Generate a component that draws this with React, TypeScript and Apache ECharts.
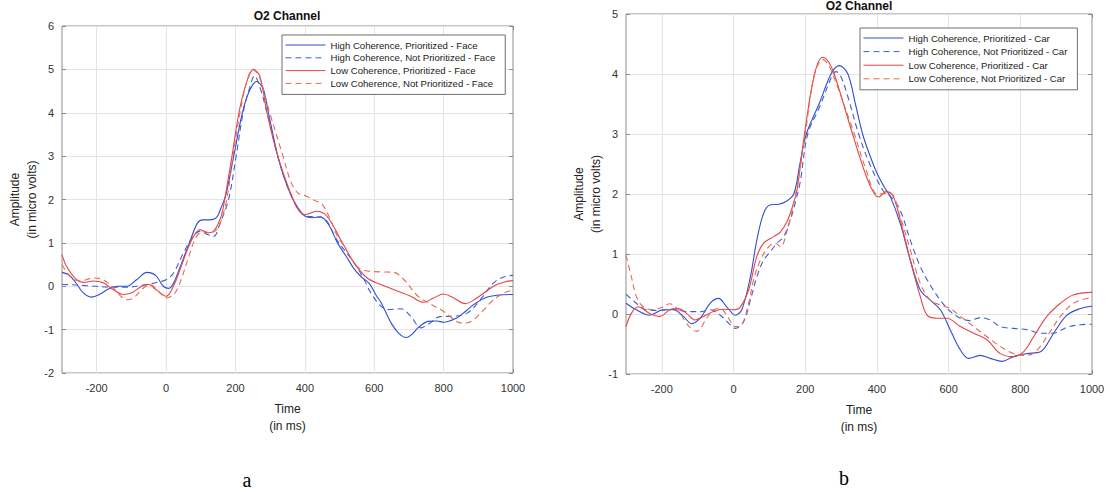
import React, { useEffect, useRef } from "react";
import * as echarts from "echarts";

// ---------- tick labels ----------
const xTicks = [-200, 0, 200, 400, 600, 800, 1000];
const yRangeA = [-2, 6];
const yRangeB = [-1, 5];

// ---------- legend names ----------
const namesA = [
  "High Coherence, Prioritized - Face",
  "High Coherence, Not Prioritized - Face",
  "Low Coherence, Prioritized - Face",
  "Low Coherence, Not Prioritized - Face",
];
const namesB = [
  "High Coherence, Prioritized - Car",
  "High Coherence, Not Prioritized - Car",
  "Low Coherence, Prioritized - Car",
  "Low Coherence, Not Prioritized - Car",
];

// ---------- panel a (Face): [time ms, amplitude µV] ----------
const hpFace = [
  [-300, 0.32], [-280, 0.26], [-260, 0.08], [-240, -0.14], [-215, -0.25], [-190, -0.18],
  [-165, -0.06], [-140, 0], [-113, 0], [-85, 0.15], [-55, 0.32], [-30, 0.25], [-8, 0.0],
  [8, -0.05], [22, 0.08], [45, 0.54], [69, 1.04], [90, 1.45], [105, 1.53], [125, 1.53],
  [145, 1.58], [158, 1.8], [172, 2.1], [195, 3.0], [220, 4.0], [240, 4.5], [261, 4.72],
  [280, 4.55], [295, 4.0], [322, 3.0], [345, 2.4], [366, 2.0], [385, 1.75], [400, 1.62],
  [420, 1.58], [445, 1.6], [470, 1.4], [494, 1.0], [520, 0.68], [542, 0.4], [561, 0.23],
  [586, 0.06], [605, -0.2], [620, -0.38], [649, -0.85], [670, -1.08], [692, -1.18],
  [710, -1.1], [726, -0.96], [755, -0.81], [780, -0.8], [800, -0.83], [838, -0.73],
  [860, -0.6], [887, -0.42], [926, -0.25], [960, -0.2], [1000, -0.19],
];
const hnpFace = [
  [-300, 0.04], [-260, 0.03], [-220, 0.01], [-160, -0.02], [-113, -0.02], [-56, 0.04],
  [-20, 0.1], [0, 0.15], [21, 0.3], [50, 0.77], [74, 1.1], [98, 1.27], [117, 1.2],
  [137, 1.15], [156, 1.46], [180, 2.0], [202, 3.0], [222, 4.0], [240, 4.55], [255, 4.85],
  [270, 4.6], [291, 4.0], [322, 3.0], [345, 2.4], [366, 2.0], [385, 1.75], [400, 1.62],
  [430, 1.6], [453, 1.58], [494, 1.05], [542, 0.54], [571, 0.15], [590, -0.15],
  [619, -0.46], [639, -0.54], [677, -0.52], [705, -0.69], [735, -0.96], [755, -0.88],
  [790, -0.7], [829, -0.69], [868, -0.62], [906, -0.31], [944, 0.08], [975, 0.22], [1000, 0.25],
];
const lpFace = [
  [-300, 0.73], [-287, 0.46], [-258, 0.15], [-238, 0.09], [-210, 0.12], [-181, 0.08],
  [-152, -0.08], [-123, -0.19], [-99, -0.15], [-70, 0], [-51, 0.04], [-27, -0.09],
  [0, -0.23], [21, 0], [40, 0.38], [60, 0.81], [79, 1.15], [98, 1.31], [117, 1.23],
  [137, 1.27], [158, 1.6], [170, 2.05], [190, 3.0], [210, 4.0], [232, 4.7], [252, 5.0],
  [270, 4.85], [291, 4.0], [322, 3.0], [366, 2.0], [385, 1.72], [400, 1.65], [434, 1.73],
  [463, 1.62], [503, 1.08], [542, 0.54], [580, 0.19], [619, 0.04], [657, -0.08],
  [705, -0.23], [742, -0.37], [771, -0.27], [800, -0.18], [829, -0.27], [862, -0.4],
  [896, -0.27], [944, 0], [975, 0.1], [1000, 0.13],
];
const lnpFace = [
  [-300, 0.5], [-277, 0.23], [-248, 0.12], [-210, 0.19], [-181, 0.15], [-152, -0.04],
  [-113, -0.31], [-94, -0.27], [-65, -0.04], [-46, 0.04], [-22, -0.12], [2, -0.27],
  [26, -0.15], [45, 0.19], [69, 0.77], [88, 1.15], [108, 1.27], [127, 1.23], [146, 1.31],
  [160, 1.55], [175, 2.0], [193, 3.0], [213, 4.0], [232, 4.7], [250, 5.0], [270, 4.8],
  [295, 4.1], [337, 3.0], [360, 2.4], [380, 2.15], [403, 2.08], [430, 1.97], [449, 1.9],
  [470, 1.6], [494, 1.15], [511, 0.95], [542, 0.54], [560, 0.4], [580, 0.35], [620, 0.33],
  [657, 0.32], [686, 0.15], [726, -0.23], [760, -0.4], [800, -0.58], [853, -0.85],
  [870, -0.84], [887, -0.77], [915, -0.55], [944, -0.31], [975, -0.15], [1000, -0.09],
];

// ---------- panel b (Car) ----------
const hpCar = [
  [-300, 0.18], [-271, 0.07], [-234, -0.02], [-196, 0.07], [-168, 0.07], [-140, -0.04],
  [-117, -0.16], [-93, -0.07], [-65, 0.18], [-42, 0.26], [-19, 0.12], [5, -0.02],
  [23, 0.07], [47, 0.62], [65, 1.23], [84, 1.68], [103, 1.82], [126, 1.83], [145, 1.87],
  [168, 2.0], [185, 2.5], [203, 3.0], [240, 3.52], [272, 4.0], [295, 4.14], [319, 4.0],
  [340, 3.5], [360, 3.0], [380, 2.65], [400, 2.35], [420, 2.12], [437, 1.96], [465, 1.51],
  [493, 0.9], [521, 0.4], [549, 0.23], [577, 0.07], [605, -0.27], [633, -0.6], [656, -0.74],
  [688, -0.69], [716, -0.74], [749, -0.79], [781, -0.71], [819, -0.66], [856, -0.63],
  [893, -0.32], [930, -0.02], [967, 0.09], [1000, 0.13],
];
const hnpCar = [
  [-300, 0.33], [-271, 0.18], [-243, 0.07], [-206, 0.06], [-168, 0.08], [-131, 0.04],
  [-93, 0.04], [-65, 0.07], [-37, -0.02], [-9, -0.18], [5, -0.24], [28, -0.13], [47, 0.23],
  [65, 0.62], [84, 0.9], [103, 1.04], [121, 1.18], [140, 1.29], [160, 1.6], [172, 1.85],
  [186, 2.2], [207, 3.0], [240, 3.45], [277, 4.0], [286, 4.04], [300, 3.95], [320, 3.6],
  [349, 3.0], [380, 2.5], [418, 2.05], [440, 1.95], [465, 1.73], [493, 1.23], [521, 0.79],
  [549, 0.48], [577, 0.23], [605, 0.04], [633, -0.07], [660, -0.11], [688, -0.06],
  [716, -0.1], [744, -0.21], [781, -0.24], [819, -0.26], [856, -0.32], [893, -0.32],
  [930, -0.22], [967, -0.18], [1000, -0.17],
];
const lpCar = [
  [-300, -0.21], [-285, 0.01], [-266, 0.12], [-234, 0.01], [-206, -0.04], [-178, 0.07],
  [-154, 0.09], [-131, 0.01], [-107, -0.1], [-84, -0.04], [-56, 0.04], [-28, 0.08],
  [0, 0.07], [19, 0.12], [42, 0.4], [65, 0.96], [84, 1.18], [112, 1.29], [131, 1.37],
  [150, 1.55], [165, 1.8], [178, 2.1], [198, 3.0], [226, 4.0], [249, 4.28], [265, 4.2],
  [281, 4.0], [332, 3.0], [370, 2.3], [393, 2.0], [405, 1.95], [425, 2.04], [444, 1.98],
  [465, 1.57], [493, 0.9], [521, 0.29], [540, -0.02], [567, -0.07], [595, -0.07],
  [633, -0.21], [670, -0.32], [707, -0.43], [744, -0.66], [781, -0.71], [809, -0.63],
  [837, -0.38], [874, -0.04], [912, 0.18], [949, 0.32], [1000, 0.36],
];
const lnpCar = [
  [-300, 0.98], [-285, 0.62], [-271, 0.29], [-252, 0.12], [-224, 0.07], [-196, 0.12],
  [-178, 0.17], [-154, 0.07], [-131, -0.16], [-103, -0.29], [-75, -0.07], [-56, 0.07],
  [-37, 0.09], [-19, -0.02], [5, -0.21], [23, -0.18], [42, 0.18], [56, 0.57], [75, 0.9],
  [98, 1.12], [117, 1.18], [131, 1.12], [150, 1.4], [168, 1.85], [182, 2.3], [200, 3.0],
  [226, 4.0], [249, 4.24], [265, 4.15], [283, 3.9], [337, 3.0], [370, 2.4], [402, 2.0],
  [437, 2.01], [465, 1.62], [493, 1.07], [521, 0.51], [549, 0.23], [577, 0.15], [605, 0.09],
  [633, -0.04], [670, -0.21], [707, -0.38], [744, -0.54], [781, -0.66], [819, -0.69],
  [847, -0.6], [874, -0.38], [912, -0.04], [949, 0.18], [1000, 0.28],
];

const colors = ["#2f4fcf", "#3e5fd4", "#e64545", "#ea6a52"];
const dashed = [false, true, false, true];
const FONT = "'Liberation Sans', Arial, Helvetica, sans-serif";

export default function App() {
  const ref = useRef<HTMLDivElement>(null);

  useEffect(() => {
    if (!ref.current) return;
    const chart = echarts.init(ref.current, undefined, { renderer: "svg" });

    const grids = [
      { left: 62, top: 26, width: 451, height: 347 },
      { left: 626, top: 14, width: 466, height: 360 },
    ];
    const yRanges = [yRangeA, yRangeB];
    const nameGaps = [20, 21];
    const fmt = (v: number) => String(v);

    const xAxis: any[] = [];
    const yAxis: any[] = [];
    grids.forEach((g, gi) => {
      const tickStyle = { inside: true, length: 4, lineStyle: { color: "#8c8c8c" } };
      const noLine = { show: false, onZero: false };
      xAxis.push({
        type: "value", gridIndex: gi, min: -300, max: 1000, position: "bottom",
        axisLine: noLine,
        axisTick: { ...tickStyle, customValues: xTicks },
        axisLabel: { customValues: xTicks, formatter: fmt, fontSize: 11, color: "#333", margin: 9, fontFamily: FONT },
        splitLine: { show: false },
        name: "Time\n(in ms)", nameLocation: "middle", nameGap: 27,
        nameTextStyle: { fontSize: 12, lineHeight: 17, color: "#222", fontFamily: FONT },
      });
      xAxis.push({
        type: "value", gridIndex: gi, min: -300, max: 1000, position: "top",
        axisLine: noLine,
        axisTick: { ...tickStyle, customValues: xTicks },
        axisLabel: { show: false, customValues: xTicks },
        splitLine: { show: false },
      });
      yAxis.push({
        type: "value", gridIndex: gi, min: yRanges[gi][0], max: yRanges[gi][1], interval: 1,
        position: "left",
        axisLine: noLine,
        axisTick: tickStyle,
        axisLabel: { formatter: fmt, fontSize: 11, color: "#333", margin: 8, fontFamily: FONT },
        splitLine: { show: true, lineStyle: { color: "#e4e4e4", width: 1 } },
        name: "Amplitude\n(in micro volts)", nameLocation: "middle", nameGap: nameGaps[gi],
        nameTextStyle: { fontSize: 12, lineHeight: 17, color: "#222", fontFamily: FONT },
      });
      yAxis.push({
        type: "value", gridIndex: gi, min: yRanges[gi][0], max: yRanges[gi][1], interval: 1,
        position: "right",
        axisLine: noLine,
        axisTick: tickStyle,
        axisLabel: { show: false },
        splitLine: { show: false },
      });
    });

    const panelData = [
      [hpFace, hnpFace, lpFace, lnpFace],
      [hpCar, hnpCar, lpCar, lnpCar],
    ];
    const panelNames = [namesA, namesB];
    const series: any[] = [];
    panelData.forEach((set, gi) => {
      set.forEach((d, i) => {
        const s: any = {
          type: "line",
          name: panelNames[gi][i],
          xAxisIndex: gi * 2,
          yAxisIndex: gi * 2,
          data: d,
          smooth: 0.35,
          symbol: "none",
          showSymbol: false,
          z: 3,
          lineStyle: { color: colors[i], width: 1.1, type: dashed[i] ? [6, 4] : "solid" },
          itemStyle: { color: colors[i] },
        };
        if (i === 0) {
          s.markLine = {
            silent: true,
            symbol: ["none", "none"],
            label: { show: false },
            z: 1,
            lineStyle: { color: "#e4e4e4", width: 1, type: "solid" },
            data: xTicks.slice(0, -1).map((v) => ({ xAxis: v })),
          };
        }
        series.push(s);
      });
    });

    const legendBase = {
      orient: "vertical",
      itemWidth: 40,
      itemHeight: 10,
      borderColor: "#6e6e6e",
      borderWidth: 1,
      borderRadius: 0,
      backgroundColor: "#fff",
      itemStyle: { opacity: 0 },
      lineStyle: { width: 1 },
      textStyle: { fontSize: 9.6, color: "#222", fontFamily: FONT },
      selectedMode: false,
    };

    chart.setOption({
      animation: false,
      backgroundColor: "#fff",
      grid: grids.map((g) => ({ ...g, show: true, borderColor: "#8c8c8c", borderWidth: 1, backgroundColor: "transparent" })),
      xAxis,
      yAxis,
      legend: [
        { ...legendBase, data: namesA, left: 282, top: 35, itemGap: 2.8, padding: [5, 10, 6, 3] },
        { ...legendBase, data: namesB, left: 860, top: 28, itemGap: 3.6, padding: [5, 10, 6, 3] },
      ],
      series,
      graphic: [
        { type: "text", x: 287, y: 16, style: { text: "O2 Channel", font: `bold 12px ${FONT}`, fill: "#111", textAlign: "center", textVerticalAlign: "middle" } },
        { type: "text", x: 859, y: 6, style: { text: "O2 Channel", font: `bold 12px ${FONT}`, fill: "#111", textAlign: "center", textVerticalAlign: "middle" } },
        { type: "text", x: 247, y: 480, style: { text: "a", font: "20px 'Liberation Serif', 'Times New Roman', serif", fill: "#000", textAlign: "center", textVerticalAlign: "middle" } },
        { type: "text", x: 844, y: 478, style: { text: "b", font: "20px 'Liberation Serif', 'Times New Roman', serif", fill: "#000", textAlign: "center", textVerticalAlign: "middle" } },
      ],
    });

    return () => chart.dispose();
  }, []);

  return (
    <div
      ref={ref}
      style={{ position: "fixed", left: 0, top: 0, width: 1110, height: 492, background: "#fff" }}
    />
  );
}
